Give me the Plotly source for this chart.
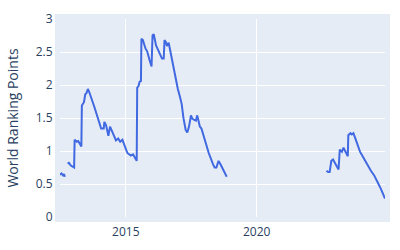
import plotly.graph_objects as go

dates = [
    "2012-06-27", "2012-07-17", "2012-08-08", "2012-08-21", "2012-09-04",
    "2012-09-25",
    "2012-10-11", "2012-10-29", "2012-11-25", "2013-01-10", "2013-01-17",
    "2013-02-16", "2013-03-08", "2013-03-29", "2013-04-21", "2013-04-28",
    "2013-05-27", "2013-06-15", "2013-07-03", "2013-07-21", "2013-08-10",
    "2013-10-22", "2014-01-22", "2014-02-27", "2014-03-08", "2014-04-01",
    "2014-05-03", "2014-05-26", "2014-07-01", "2014-08-17", "2014-09-17",
    "2014-10-15", "2014-11-15", "2015-01-23", "2015-03-11", "2015-04-12",
    "2015-05-19", "2015-06-02", "2015-06-09", "2015-06-26", "2015-07-13",
    "2015-07-31", "2015-08-07", "2015-08-27", "2015-10-04", "2015-10-26",
    "2015-11-28", "2015-12-26", "2016-01-09", "2016-01-26", "2016-02-27",
    "2016-03-26", "2016-04-28", "2016-05-20", "2016-06-13", "2016-06-24",
    "2016-07-14", "2016-07-28", "2016-08-21", "2016-09-13", "2016-10-28",
    "2016-11-21", "2016-12-27", "2017-01-28", "2017-02-19", "2017-03-14",
    "2017-04-15", "2017-05-08", "2017-06-01", "2017-06-28", "2017-07-16",
    "2017-08-13", "2017-09-05", "2017-09-23", "2017-10-16", "2017-10-30",
    "2017-11-21", "2018-01-07", "2018-03-03", "2018-05-01", "2018-05-24",
    "2018-06-18", "2018-07-18", "2018-08-14", "2018-09-29", "2018-11-09",
    "2020-01-01",
    "2022-08-31", "2022-09-23", "2022-10-15", "2022-11-07", "2022-12-01",
    "2022-12-23", "2023-01-25", "2023-02-16", "2023-03-05", "2023-04-04",
    "2023-04-26", "2023-05-23", "2023-06-25", "2023-07-02", "2023-07-31",
    "2023-08-19", "2023-09-11", "2023-10-08", "2023-11-10", "2023-12-12",
    "2024-01-18", "2024-02-23", "2024-03-27", "2024-05-12", "2024-06-27",
    "2024-07-30", "2024-08-26", "2024-09-27", "2024-11-03", "2024-11-25",
]

points = [
    0.64, 0.66, 0.63, 0.65, 0.61,
    None,
    0.81, 0.82, 0.78, 0.75, 1.17,
    1.14, 1.15, 1.12, 1.07, 1.69,
    1.74, 1.86, 1.88, 1.94, 1.89,
    1.66, 1.34, 1.34, 1.44, 1.39,
    1.23, 1.37, 1.29, 1.16, 1.19,
    1.14, 1.17, 0.97, 0.93, 0.95,
    0.88, 0.85, 1.96, 1.98, 2.05,
    2.06, 2.70, 2.68, 2.55, 2.51,
    2.38, 2.28, 2.75, 2.77, 2.60,
    2.53, 2.43, 2.40, 2.40, 2.68,
    2.65, 2.59, 2.64, 2.51, 2.26,
    2.18, 1.94, 1.81, 1.71, 1.51,
    1.32, 1.28, 1.37, 1.54, 1.49,
    1.47, 1.46, 1.54, 1.44, 1.37,
    1.34, 1.17, 0.97, 0.80, 0.75,
    0.75, 0.85, 0.80, 0.70, 0.61,
    None,
    0.70, 0.68, 0.68, 0.85, 0.87,
    0.82, 0.75, 0.72, 1.02, 0.99,
    1.05, 0.99, 0.92, 1.24, 1.27,
    1.25, 1.27, 1.19, 1.09, 0.99,
    0.92, 0.85, 0.77, 0.70, 0.63,
    0.57, 0.50, 0.43, 0.35, 0.28,
]

y_ticks = [0, 0.5, 1, 1.5, 2, 2.5, 3]

fig = go.Figure(
    go.Scatter(
        x=dates,
        y=points,
        mode="lines",
        line=dict(color="royalblue", width=2),
        connectgaps=False,
    )
)

bg = "#E5ECF6"
fig.update_layout(
    width=400,
    height=250,
    margin=dict(l=60, r=10, t=17, b=31),
    template="plotly",
    plot_bgcolor=bg,
    paper_bgcolor="white",
    showlegend=False,
    font=dict(family="Open Sans", color="#2a3f5f", size=12),
)
fig.update_xaxes(
    range=[dates[0], dates[-1]],
    showgrid=True,
    gridcolor="white",
    showline=True,
    linecolor=bg,
    linewidth=5,
    mirror=True,
    tickfont=dict(size=12),
)
fig.update_yaxes(
    range=[0, 3],
    tickvals=y_ticks,
    title=dict(text="World Ranking Points", font=dict(size=14)),
    showgrid=True,
    gridcolor="white",
    zeroline=True,
    zerolinecolor="white",
    zerolinewidth=2,
    showline=True,
    linecolor=bg,
    linewidth=5,
    mirror=True,
)

fig.write_html("out.html")
